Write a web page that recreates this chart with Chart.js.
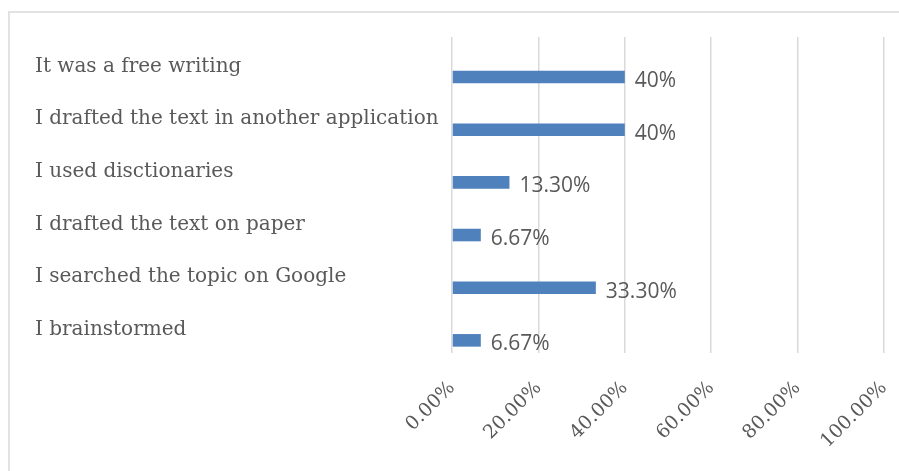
<!DOCTYPE html>
<html>
<head>
<meta charset="utf-8">
<script src="https://cdn.jsdelivr.net/npm/chart.js@4/dist/chart.umd.min.js"></script>
<style>
    html, body { margin: 0; padding: 0; background: #fff; overflow: hidden; }
    .frame {
        position: absolute;
        left: 8px;
        top: 11px;
        width: 900px;
        height: 470px;
        border-left: 2px solid #e2e2e2;
        border-top: 2px solid #e2e2e2;
    }
    .wrap { position: absolute; left: 0; top: 0; width: 899px; height: 471px; }
</style>
</head>
<body>
<div class="frame"></div>
<div class="wrap"><canvas id="prewriting-chart"></canvas></div>
<script>
(function () {
    "use strict";

    const categories = [
        "It was a free writing",
        "I drafted the text in another application",
        "I used disctionaries",
        "I drafted the text on paper",
        "I searched the topic on Google",
        "I brainstormed",
    ];
    const shares = [40, 40, 13.3, 6.67, 33.3, 6.67];
    const axisTicks = [0, 20, 40, 60, 80, 100];

    const serif = "'DejaVu Serif', serif";
    const textGrey = "#595959";

    const fmtShare = (v) => (Number.isInteger(v) ? v + "%" : v.toFixed(2) + "%");

    // value labels to the right of each bar
    const barLabels = {
        id: "barLabels",
        afterDatasetsDraw(chart) {
            const meta = chart.getDatasetMeta(1);
            const ctx = chart.ctx;
            ctx.save();
            ctx.font = "21px 'Open Sans', sans-serif";
            ctx.fillStyle = textGrey;
            ctx.textAlign = "left";
            ctx.textBaseline = "alphabetic";
            meta.data.forEach((bar, i) => {
                ctx.fillText(fmtShare(shares[i]), bar.x + 10, bar.y + 10);
            });
            ctx.restore();
        },
    };

    const ctx = document.getElementById("prewriting-chart").getContext("2d");

    new Chart(ctx, {
        type: "bar",
        data: {
            labels: categories,
            datasets: [
                {
                    // empty slot so the bar sits in the lower half of each row
                    data: categories.map(() => null),
                    backgroundColor: "rgba(0,0,0,0)",
                },
                {
                    data: shares,
                    backgroundColor: "#4f81bd",
                    borderWidth: 0,
                },
            ],
        },
        options: {
            indexAxis: "y",
            responsive: true,
            maintainAspectRatio: false,
            animation: false,
            categoryPercentage: 1.04,
            barPercentage: 0.46,
            layout: {
                padding: { left: 35, right: 15, top: 37, bottom: 0 },
            },
            plugins: {
                legend: { display: false },
                tooltip: { enabled: false },
            },
            scales: {
                x: {
                    min: 0,
                    max: 100,
                    afterBuildTicks(scale) {
                        scale.ticks = axisTicks.map((v) => ({ value: v }));
                    },
                    afterFit(scale) {
                        scale.height = 118;
                        scale.paddingLeft = 0;
                        scale.paddingRight = 0;
                    },
                    ticks: {
                        minRotation: 45,
                        maxRotation: 45,
                        padding: 24,
                        color: textGrey,
                        font: { family: serif, size: 19 },
                        callback: (v) => v.toFixed(2) + "%",
                    },
                    grid: {
                        color: "#d9d9d9",
                        lineWidth: 1.5,
                        drawTicks: false,
                    },
                    border: { display: false },
                },
                y: {
                    afterFit(scale) {
                        scale.width = 417;
                    },
                    ticks: {
                        crossAlign: "far",
                        labelOffset: 3,
                        color: textGrey,
                        font: { family: serif, size: 20 },
                    },
                    grid: { display: false, drawTicks: false },
                    border: { display: false },
                },
            },
        },
        plugins: [barLabels],
    });
})();
</script>
</body>
</html>
